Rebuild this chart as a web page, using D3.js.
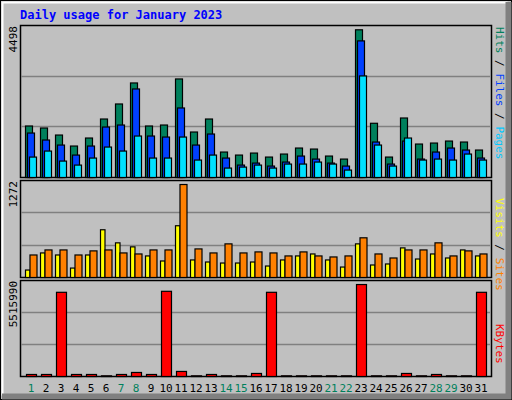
<!DOCTYPE html>
<html>
<head>
<meta charset="utf-8">
<script src="https://cdn.jsdelivr.net/npm/d3@7"></script>
<style>
  body { margin: 0; background: #fff; }
  text { font-family: "DejaVu Sans Mono", monospace; }
</style>
</head>
<body>
<svg id="chart" width="512" height="400"></svg>
<script>
const days = d3.range(1, 32);
const weekends = [1, 7, 8, 14, 15, 21, 22, 28, 29];

const hits = [1568,1507,1293,958,1202,1781,2239,2879,1568,1598,3001,1385,1781,775,683,744,622,714,897,866,653,561,4498,1651,622,1812,1019,1049,1110,1080,836];
const files = [1354,1141,988,683,958,1537,1598,2696,1263,1232,2117,988,1324,592,378,439,348,470,653,561,439,348,4160,1080,409,1110,561,775,897,836,592];
const pages = [622,805,500,378,592,927,805,1263,592,592,1232,531,683,287,317,378,287,409,409,470,409,226,3093,988,348,1202,531,561,531,714,531];
const sites = [102,336,308,129,308,653,474,419,295,226,708,240,212,198,198,212,157,240,295,322,240,143,460,171,185,405,253,322,267,377,295];
const visits = [308,377,377,308,364,377,336,322,377,377,1272,391,336,460,336,350,336,295,350,295,281,295,543,322,267,377,377,474,295,364,322];
const kbytes = [121000,121000,5050000,121000,121000,40000,121000,242000,121000,5110000,303000,40000,121000,40000,40000,182000,5050000,40000,40000,40000,40000,40000,5515990,40000,40000,182000,40000,121000,40000,40000,5050000];

const svg = d3.select("#chart");

// outer frame
svg.append("rect").attr("x", 0).attr("y", 0).attr("width", 512).attr("height", 400).attr("fill", "#c0c0c0");
svg.append("rect").attr("x", 0.5).attr("y", 0.5).attr("width", 511).attr("height", 399).attr("fill", "none").attr("stroke", "#000");
svg.append("path").attr("d", "M2.5,395.5V2.5H507.5").attr("fill", "none").attr("stroke", "#fff").attr("stroke-width", 2);
svg.append("path").attr("d", "M2,396.5H508.5V2").attr("fill", "none").attr("stroke", "#808080").attr("stroke-width", 6);

svg.append("text").attr("x", 20).attr("y", 19)
    .attr("font-size", 12).attr("font-weight", "bold").attr("fill", "#0000ff")
    .text("Daily usage for January 2023");

const x = d3.scaleLinear().domain([1, 31]).range([25, 475]);
const left = 20, right = 491;

function panel(top, bottom, max, label) {
    const y = d3.scaleLinear().domain([0, max]).range([bottom, top]);
    const g = svg.append("g");
    g.append("rect").attr("x", left + 0.5).attr("y", top + 0.5)
        .attr("width", right - left).attr("height", bottom - top)
        .attr("fill", "#c0c0c0").attr("stroke", "#000").attr("stroke-width", 1.5);
    g.selectAll("line.grid").data([max / 3, max * 2 / 3]).enter().append("line")
        .attr("x1", left + 1).attr("x2", right - 1)
        .attr("y1", d => Math.round(y(d)) + 0.5).attr("y2", d => Math.round(y(d)) + 0.5)
        .attr("stroke", "#808080").attr("stroke-width", 1.5);
    g.append("text").attr("transform", `translate(17,${top + 1}) rotate(-90)`)
        .attr("text-anchor", "end").attr("font-size", 11).attr("fill", "#000").text(label);
    return y;
}

function bars(y, data, dx, w, color) {
    svg.append("g").selectAll("rect").data(data).enter().append("rect")
        .attr("x", (d, i) => x(days[i]) + dx + 0.5)
        .attr("y", d => y(d) + 0.5)
        .attr("width", w)
        .attr("height", d => Math.max(0, y.range()[0] - y(d)))
        .attr("fill", color).attr("stroke", "#000").attr("stroke-width", 1.2);
}

const y1 = panel(25, 177, 4629, "4498");
bars(y1, hits, 0, 7, "#00805c");
bars(y1, files, 2, 7, "#0040ff");
bars(y1, pages, 4, 7, "#00e0ff");

const y2 = panel(180, 277, 1327, "1272");
bars(y2, sites, 0, 4.5, "#ffff00");
bars(y2, visits, 4.5, 7, "#ff8000");

const y3 = panel(280, 376, 5758000, "5515990");
bars(y3, kbytes, 1, 10, "#ff0000");

// right side legends
function legend(xp, yp, parts) {
    const t = svg.append("text").attr("transform", `translate(${xp},${yp}) rotate(90)`)
        .attr("font-size", 11);
    parts.forEach(p => t.append("tspan").attr("fill", p[1]).text(p[0]));
}
legend(496, 27, [["Hits", "#00805c"], [" / ", "#000"], ["Files", "#0040ff"], [" / ", "#000"], ["Pages", "#00c8ff"]]);
legend(496, 198, [["Visits", "#ffff00"], [" / ", "#000"], ["Sites", "#ff8000"]]);
legend(496, 324, [["KBytes", "#ff0000"]]);

svg.append("g").selectAll("text").data(days).enter().append("text")
    .attr("x", d => x(d) + 6).attr("y", 392)
    .attr("text-anchor", "middle").attr("font-size", 11)
    .attr("fill", d => weekends.includes(d) ? "#00805c" : "#000")
    .text(d => d);
</script>
</body>
</html>
